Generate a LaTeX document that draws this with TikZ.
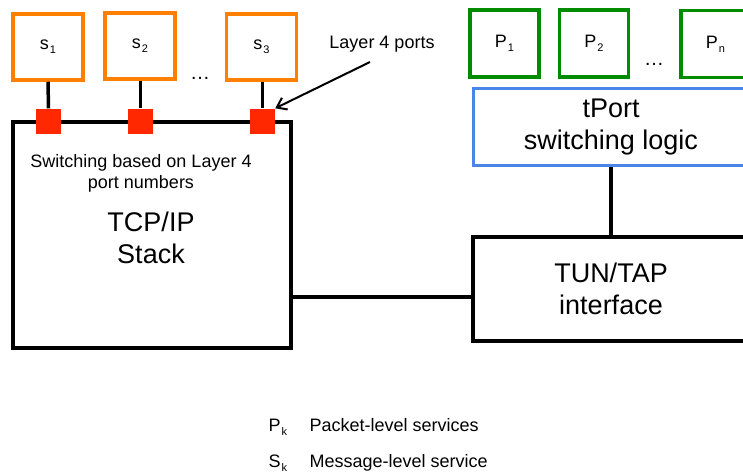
\documentclass[tikz,border=0pt]{standalone}
\usepackage{fontspec}
\setmainfont{Liberation Sans}
\usetikzlibrary{arrows.meta}
\definecolor{sorange}{RGB}{255,128,0}
\definecolor{pgreen}{RGB}{0,140,0}
\definecolor{tblue}{RGB}{74,134,232}
\definecolor{pred}{RGB}{255,40,0}
\newcommand{\mysub}[1]{\kern1pt\raisebox{-0.45ex}{\fontsize{11}{11}\selectfont #1}}
\begin{document}
\begin{tikzpicture}[x=1pt,y=-1pt,
  sbox/.style={draw=sorange,line width=3.5pt,minimum width=70pt,minimum height=66pt,inner sep=0pt,font=\fontsize{18}{20}\selectfont},
  pbox/.style={draw=pgreen,line width=3.5pt,minimum width=69pt,minimum height=67pt,inner sep=0pt,font=\fontsize{18}{20}\selectfont},
  port/.style={fill=pred,minimum size=25pt,inner sep=0pt},
  bigbox/.style={draw=black,line width=3.5pt,inner sep=0pt},
  bigtxt/.style={font=\fontsize{27}{32}\selectfont,align=center},
  smalltxt/.style={font=\fontsize{18}{21}\selectfont,align=center},
  dotstxt/.style={font=\fontsize{20}{20}\selectfont},
  wire/.style={line width=3.5pt}
]
\useasboundingbox (0,0) rectangle (743,474);
\clip (0,0) rectangle (743,474);

% TCP/IP stack box
\node[bigbox,minimum width=278pt,minimum height=226pt] (tcp) at (152,235) {};
\node[smalltxt] (sw) at (141,173) {Switching based on Layer 4\\port numbers};
\node[bigtxt] (tcptxt) at (151,238) {TCP/IP\\Stack};

% services
\node[sbox] (s1) at (48,47) {s\mysub{1}};
\node[sbox] (s2) at (140,46) {s\mysub{2}};
\node[sbox] (s3) at (261.5,47) {s\mysub{3}};
\node[dotstxt,anchor=base] (sdots) at (200,79) {\dots};

% ports
\node[port] (r1) at (48.5,121) {};
\node[port] (r2) at (140.5,121) {};
\node[port] (r3) at (262.5,121) {};
\draw[wire] (s1.south) -- (r1.north);
\draw[wire] (s2.south -| r2) -- (r2.north);
\draw[wire] (s3.south -| r3) -- (r3.north);

% label and arrow
\node[font=\fontsize{18}{20}\selectfont] (l4) at (382,44) {Layer 4 ports};
\coordinate (astart) at (370,62);
\draw[line width=2pt,-{Straight Barb[length=9pt,width=13pt,line width=2pt]}] (astart) -- (r3.north east);

% packet services
\node[pbox] (p1) at (504.5,43.5) {P\mysub{1}};
\node[pbox] (p2) at (594,43.5) {P\mysub{2}};
\node[pbox] (pn) at (715.5,44) {P\mysub{n}};
\node[dotstxt,anchor=base] (pdots) at (654,65) {\dots};

% tPort switching logic
\node[draw=tblue,line width=3pt,minimum width=276pt,minimum height=77pt,inner sep=0pt,bigtxt] (tport) at (611,127) {tPort\\switching logic};

% TUN/TAP
\node[bigbox,minimum width=276pt,minimum height=104pt,bigtxt] (tun) at (611,289) {TUN/TAP\\interface};

\coordinate (tc) at (611,0);
\coordinate (cy) at (0,297);
\draw[wire] (tport.south -| tc) -- (tun.north -| tc);
\draw[wire] (tcp.east |- cy) -- (tun.west |- cy);

% legend
\node[anchor=base west,font=\fontsize{18}{20}\selectfont] (lp) at (265,431) {P\mysub{k}};
\node[anchor=base west,font=\fontsize{18}{20}\selectfont] (lpt) at (306,431) {Packet-level services};
\node[anchor=base west,font=\fontsize{18}{20}\selectfont] (ls) at (265,467) {S\mysub{k}};
\node[anchor=base west,font=\fontsize{18}{20}\selectfont] (lst) at (306,467) {Message-level service};
\end{tikzpicture}
\end{document}
